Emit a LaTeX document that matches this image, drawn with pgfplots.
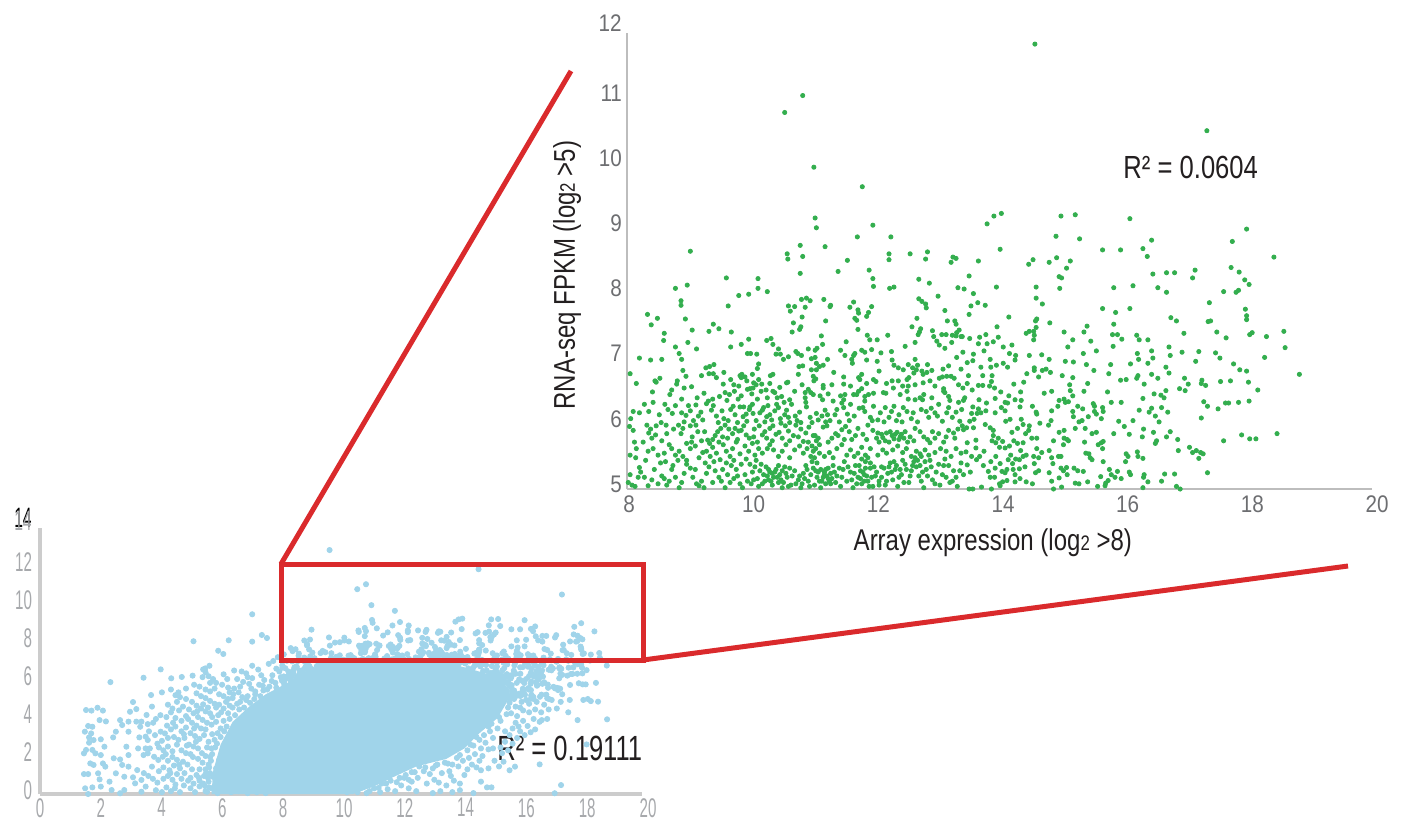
\documentclass[border=0pt]{standalone}
\usepackage{pgfplots}
\usepackage{pgfplotstable}
\usepackage{fontspec}
\pgfplotsset{compat=1.18}
\setmainfont{Liberation Sans}
\newfontfamily\fmain[FakeStretch=0.56]{Liberation Sans}
\newfontfamily\finset[FakeStretch=0.86]{Liberation Sans}
\newfontfamily\ftext[FakeStretch=0.80]{Liberation Sans}
\newfontfamily\frmain[FakeStretch=0.73]{Liberation Sans}
\definecolor{bluept}{HTML}{A0D4EA}
\definecolor{greenpt}{HTML}{33AE4E}
\definecolor{redl}{HTML}{DA2A2C}
\definecolor{axgray}{HTML}{BDBDBD}
\definecolor{axlight}{HTML}{CCCCCC}
\definecolor{tickdark}{HTML}{6D6E71}
\definecolor{ticklight}{HTML}{A7A9AC}
\definecolor{txt}{HTML}{231F20}
% points with array expression > 8 and RNA-seq > 5 (shown in both panels)
\pgfplotstableread[row sep=\\]{
x y\\
10.83 11.04\\10.54 10.78\\11.01 9.94\\11.79 9.64\\11.03 9.16\\11.05 9.01\\11.96 9.05\\11.71 8.87\\12.25 8.87\\10.79 8.74\\11.19 8.72\\9.02 8.65\\10.58 8.61\\10.59 8.53\\10.83 8.57\\11.55 8.51\\11.40 8.34\\11.90 8.36\\10.79 8.31\\12.22 8.61\\12.22 8.52\\12.56 8.61\\12.84 8.64\\12.81 8.53\\13.25 8.56\\13.30 8.54\\13.22 8.48\\13.66 8.50\\13.51 8.27\\9.60 8.24\\10.11 8.23\\11.96 8.23\\12.70 8.22\\
14.57 11.83\\17.34 10.50\\14.03 9.23\\13.91 9.19\\13.80 9.07\\15.22 9.21\\14.99 9.19\\16.10 9.15\\14.91 8.88\\15.29 8.84\\14.01 8.68\\14.54 8.52\\14.47 8.45\\14.80 8.48\\14.92 8.55\\15.14 8.50\\15.08 8.39\\14.96 8.26\\15.00 8.24\\15.66 8.67\\15.95 8.67\\16.31 8.69\\16.45 8.82\\16.38 8.57\\16.47 8.30\\16.69 8.32\\16.82 8.32\\17.15 8.36\\17.11 8.24\\17.98 8.99\\17.75 8.80\\17.73 8.40\\17.86 8.33\\17.95 8.21\\18.42 8.56\\
13.43 8.07\\13.58 8.00\\13.95 8.10\\14.59 8.10\\14.59 7.93\\14.69 7.84\\14.97 8.08\\15.84 8.09\\16.15 8.12\\16.55 8.09\\16.69 8.02\\17.61 8.03\\17.81 8.02\\17.85 8.05\\18.02 8.14\\17.38 7.86\\17.96 7.76\\17.98 7.66\\17.98 7.60\\13.65 7.86\\13.77 7.82\\13.54 7.81\\13.51 7.68\\14.15 7.64\\14.60 7.61\\14.58 7.58\\14.81 7.55\\14.59 7.48\\13.96 7.49\\15.66 7.77\\15.87 7.71\\16.10 7.77\\15.84 7.53\\16.76 7.63\\16.85 7.58\\17.36 7.57\\17.40 7.58\\15.41 7.50\\15.36 7.41\\15.04 7.41\\14.55 7.42\\14.48 7.42\\14.43 7.39\\14.56 7.36\\14.55 7.29\\15.18 7.29\\15.47 7.27\\15.82 7.37\\15.90 7.37\\15.97 7.30\\16.21 7.36\\16.25 7.29\\16.39 7.29\\16.97 7.39\\17.50 7.41\\17.65 7.32\\18.03 7.37\\18.07 7.40\\18.30 7.34\\18.58 7.42\\18.60 7.17\\18.27 7.02\\18.83 6.76\\
13.40 7.34\\13.52 7.31\\13.68 7.33\\13.78 7.37\\13.66 7.23\\13.80 7.23\\13.90 7.26\\13.98 7.33\\14.06 7.18\\14.20 7.21\\14.16 7.08\\14.26 7.05\\13.75 7.12\\13.58 7.07\\13.41 7.10\\13.57 6.97\\13.48 6.94\\13.85 6.99\\14.48 7.05\\14.68 7.06\\14.80 6.99\\15.10 7.18\\15.35 7.08\\15.56 7.12\\15.83 7.19\\16.22 7.08\\16.45 7.12\\16.24 6.99\\16.47 7.01\\16.73 7.18\\16.75 7.05\\16.94 7.10\\17.21 7.11\\17.48 7.09\\17.55 7.01\\17.16 6.96\\15.06 6.96\\15.19 6.95\\15.40 6.91\\15.79 6.91\\16.11 6.92\\16.39 6.93\\16.68 6.87\\17.77 6.92\\17.87 6.83\\17.98 6.81\\13.70 6.87\\13.86 6.87\\13.95 6.90\\14.06 6.93\\14.13 6.87\\14.25 6.98\\13.38 6.84\\14.56 6.86\\14.44 6.77\\14.56 6.82\\14.69 6.82\\14.75 6.84\\14.82 6.79\\14.63 6.72\\15.01 6.74\\15.18 6.71\\15.52 6.82\\15.76 6.77\\16.23 6.74\\16.21 6.70\\16.45 6.76\\16.55 6.70\\16.73 6.78\\16.98 6.70\\17.04 6.61\\17.26 6.67\\17.25 6.62\\17.32 6.59\\17.56 6.65\\17.72 6.66\\18.01 6.64\\18.16 6.52\\
13.50 6.74\\13.73 6.74\\13.88 6.74\\13.87 6.65\\14.23 6.61\\14.39 6.64\\15.95 6.67\\16.04 6.68\\16.33 6.61\\15.42 6.62\\15.13 6.60\\16.90 6.54\\16.99 6.51\\16.68 6.51\\16.49 6.46\\16.60 6.44\\16.65 6.40\\16.31 6.39\\15.74 6.49\\15.36 6.50\\15.14 6.51\\15.18 6.43\\14.84 6.50\\14.72 6.47\\14.34 6.49\\14.15 6.43\\14.02 6.49\\13.84 6.58\\13.92 6.55\\13.66 6.59\\13.73 6.59\\13.48 6.62\\13.41 6.55\\13.56 6.52\\13.93 6.39\\14.25 6.37\\14.35 6.36\\14.96 6.36\\15.04 6.38\\15.06 6.33\\15.11 6.34\\15.80 6.33\\15.96 6.33\\17.29 6.34\\17.35 6.27\\17.52 6.23\\17.64 6.32\\17.69 6.32\\17.85 6.33\\18.02 6.35\\15.26 6.27\\15.18 6.19\\15.34 6.23\\15.51 6.31\\15.53 6.27\\15.66 6.25\\15.53 6.19\\15.67 6.19\\15.56 6.15\\14.94 6.27\\14.84 6.20\\14.53 6.27\\14.59 6.18\\14.60 6.15\\14.33 6.26\\14.13 6.32\\14.09 6.33\\14.03 6.25\\14.09 6.20\\13.79 6.32\\13.67 6.37\\13.44 6.40\\13.42 6.36\\13.57 6.26\\13.78 6.20\\13.66 6.23\\13.70 6.17\\13.64 6.16\\13.55 6.16\\13.93 6.17\\
16.25 6.21\\16.45 6.24\\16.41 6.18\\16.61 6.25\\16.71 6.18\\16.51 6.12\\17.25 6.09\\16.15 6.05\\15.92 6.04\\16.57 6.03\\15.64 6.08\\15.43 6.11\\15.19 6.11\\15.28 6.03\\15.33 6.05\\16.01 5.96\\16.32 5.92\\16.75 5.88\\16.48 5.87\\15.84 5.85\\15.56 5.87\\15.49 5.85\\15.38 5.93\\15.22 5.93\\16.69 5.80\\16.30 5.80\\16.09 5.84\\16.87 5.76\\16.53 5.74\\16.51 5.70\\17.06 5.64\\16.88 5.59\\17.17 5.59\\17.11 5.56\\17.24 5.56\\17.28 5.54\\17.21 5.47\\17.61 5.74\\17.90 5.83\\18.03 5.77\\18.13 5.77\\18.47 5.85\\17.35 5.25\\16.82 5.23\\16.66 5.23\\16.61 5.12\\16.33 5.22\\16.32 5.18\\16.39 5.11\\16.31 5.02\\16.85 5.04\\16.91 5.00\\16.09 5.26\\16.11 5.22\\15.96 5.16\\15.90 5.27\\15.86 5.18\\15.77 5.30\\15.80 5.22\\15.75 5.13\\15.71 5.09\\15.70 5.05\\15.63 5.19\\15.58 5.04\\15.42 5.11\\15.28 5.08\\15.22 5.09\\15.35 5.27\\15.26 5.28\\15.20 5.32\\15.08 5.33\\15.09 5.22\\15.03 5.28\\14.99 5.32\\14.96 5.17\\15.00 5.03\\14.87 5.00\\14.84 5.12\\14.86 5.39\\14.84 5.48\\14.95 5.50\\14.99 5.50\\14.80 5.59\\14.68 5.56\\14.60 5.62\\14.63 5.48\\14.55 5.50\\14.56 5.39\\14.63 5.28\\14.58 5.25\\14.80 5.25\\14.43 5.11\\14.53 5.08\\15.67 5.42\\15.39 5.55\\15.44 5.54\\15.46 5.48\\15.49 5.45\\16.04 5.54\\16.07 5.50\\16.22 5.57\\16.23 5.50\\16.31 5.47\\16.03 5.42\\15.37 5.72\\15.59 5.68\\15.64 5.71\\15.67 5.73\\15.66 5.62\\15.03 5.68\\15.04 5.78\\15.09 5.76\\15.11 5.74\\14.96 5.87\\15.04 5.90\\14.87 5.74\\14.60 5.78\\14.52 5.78\\14.47 5.90\\14.48 5.97\\14.42 5.85\\14.38 5.99\\14.35 6.07\\14.29 5.93\\14.20 5.87\\14.65 6.01\\14.79 5.98\\14.83 6.05\\14.17 6.07\\14.10 6.04\\14.38 5.71\\14.29 5.70\\14.23 5.74\\14.16 5.66\\14.05 5.73\\13.98 5.78\\13.90 5.82\\13.88 5.74\\14.09 5.63\\14.00 5.64\\13.94 5.71\\14.34 5.59\\14.43 5.52\\14.38 5.50\\14.32 5.45\\14.26 5.46\\14.18 5.52\\14.14 5.45\\14.21 5.39\\14.41 5.34\\14.32 5.31\\14.22 5.30\\14.01 5.39\\13.94 5.50\\13.86 5.42\\13.93 5.32\\14.04 5.27\\14.12 5.30\\14.25 5.22\\14.09 5.25\\14.33 5.16\\14.25 5.11\\14.12 5.13\\14.05 5.11\\14.00 5.08\\14.01 5.05\\13.92 5.18\\13.85 5.18\\13.87 5.00\\13.71 5.03\\13.57 5.00\\13.51 5.00\\13.53 5.26\\13.42 5.22\\13.74 5.36\\13.82 5.27\\13.63 5.45\\13.48 5.37\\13.75 5.58\\13.68 5.50\\13.62 5.63\\13.55 5.50\\13.46 5.57\\13.48 5.71\\13.62 5.75\\13.47 5.94\\13.42 5.91\\13.58 5.94\\13.52 6.04\\13.59 6.07\\13.77 5.99\\13.85 5.94\\13.90 5.90\\
8.78 8.08\\8.97 8.13\\8.87 7.89\\8.87 7.82\\8.33 7.68\\8.49 7.62\\8.39 7.52\\8.94 7.61\\8.60 7.39\\9.05 7.44\\8.59 7.28\\8.98 7.25\\9.32 7.42\\9.39 7.53\\9.48 7.46\\9.68 7.41\\9.63 7.81\\9.80 7.97\\9.96 7.99\\10.11 8.08\\10.26 8.03\\10.60 7.81\\10.63 7.73\\10.70 7.80\\10.81 7.91\\10.89 7.93\\10.95 7.89\\10.87 7.79\\10.82 7.64\\10.68 7.55\\10.80 7.49\\10.78 7.45\\10.66 7.41\\11.17 7.91\\11.28 7.82\\11.27 7.80\\11.20 7.58\\11.13 7.35\\11.15 7.22\\11.59 7.79\\11.65 7.87\\11.72 7.75\\11.73 7.70\\11.67 7.62\\11.70 7.59\\11.94 7.80\\11.89 7.71\\11.86 7.65\\11.72 7.45\\11.87 7.36\\11.91 7.29\\12.03 7.29\\12.20 7.36\\11.97 8.11\\12.23 8.08\\12.30 8.10\\12.87 8.16\\13.01 7.96\\13.33 8.09\\12.70 7.92\\12.75 7.88\\12.81 7.84\\12.82 7.78\\13.12 7.74\\12.67 7.62\\12.59 7.49\\12.73 7.46\\12.71 7.41\\12.69 7.37\\12.64 7.25\\12.92 7.43\\12.94 7.34\\13.07 7.37\\13.14 7.37\\13.16 7.58\\13.28 7.58\\13.30 7.53\\13.35 7.44\\13.31 7.40\\13.30 7.35\\13.24 7.36\\13.23 7.25\\12.99 7.27\\13.03 7.21\\13.12 7.16\\13.38 7.34\\
8.20 7.01\\8.38 6.98\\8.56 6.99\\8.78 7.18\\8.84 7.08\\8.88 6.99\\9.12 7.15\\9.67 7.18\\9.84 7.22\\9.96 7.30\\9.94 7.08\\9.99 7.08\\10.09 7.07\\10.12 6.92\\10.10 6.85\\10.25 7.28\\10.32 7.31\\10.35 7.22\\10.44 7.15\\10.40 7.07\\10.47 7.07\\10.52 6.99\\10.60 7.03\\10.72 7.11\\10.75 7.08\\10.81 7.05\\10.92 7.15\\11.03 7.13\\11.06 7.16\\11.03 7.02\\10.97 7.00\\11.05 6.93\\11.23 6.99\\11.16 6.90\\11.10 6.88\\11.05 6.83\\10.97 6.83\\10.83 6.89\\10.77 6.88\\10.76 6.76\\11.00 6.73\\11.04 6.69\\11.01 6.66\\11.44 7.13\\11.53 7.26\\11.51 7.05\\11.65 7.05\\11.67 7.08\\11.62 6.99\\11.63 6.93\\11.78 7.13\\11.83 7.10\\11.94 7.14\\12.09 7.09\\12.03 6.96\\11.86 6.98\\12.26 7.11\\12.27 6.98\\12.30 6.90\\12.37 6.86\\12.45 6.83\\12.48 7.19\\12.64 6.99\\12.53 6.91\\12.60 6.86\\12.68 6.90\\12.66 6.83\\12.62 6.78\\12.84 6.91\\12.75 6.81\\12.77 6.76\\12.83 6.79\\12.91 6.82\\13.09 6.84\\13.18 6.89\\13.31 7.02\\
8.05 6.77\\8.15 6.62\\8.45 6.66\\8.53 6.70\\8.47 6.64\\8.90 6.82\\8.95 6.73\\8.81 6.66\\8.80 6.61\\9.04 6.57\\9.20 6.74\\9.27 6.86\\9.33 6.88\\9.40 6.91\\9.32 6.77\\9.39 6.77\\9.56 6.79\\9.44 6.71\\9.67 6.68\\9.55 6.61\\9.82 6.74\\9.85 6.76\\9.90 6.72\\9.84 6.71\\10.02 6.76\\10.04 6.63\\10.12 6.68\\10.17 6.61\\10.30 6.62\\10.31 6.74\\10.35 6.76\\10.59 6.64\\10.57 6.63\\11.49 6.72\\11.73 6.71\\11.78 6.76\\11.75 6.68\\11.49 6.61\\11.16 6.59\\11.16 6.55\\11.33 6.79\\11.97 6.68\\12.06 6.81\\12.01 6.65\\12.27 6.66\\12.37 6.66\\12.51 6.68\\12.54 6.71\\12.29 6.55\\12.53 6.58\\12.77 6.63\\13.03 6.70\\13.08 6.72\\13.15 6.73\\13.22 6.73\\13.27 6.70\\12.96 6.58\\13.10 6.54\\13.12 6.48\\
8.41 6.49\\8.42 6.33\\8.61 6.30\\8.69 6.45\\8.88 6.38\\8.78 6.28\\8.73 6.16\\8.35 6.19\\8.10 6.19\\8.20 6.17\\8.04 5.96\\8.99 6.28\\9.11 6.29\\8.88 6.17\\8.95 6.13\\9.15 6.12\\9.24 6.47\\9.31 6.35\\9.38 6.38\\9.28 6.31\\9.39 6.28\\9.36 6.21\\9.49 6.42\\9.58 6.48\\9.73 6.50\\9.65 6.45\\9.61 6.36\\9.71 6.27\\9.67 6.22\\9.82 6.26\\9.88 6.26\\9.84 6.43\\9.94 6.53\\9.98 6.54\\10.03 6.55\\10.02 6.30\\9.98 6.26\\9.97 6.22\\9.87 6.11\\10.03 6.16\\10.14 6.17\\10.27 6.28\\10.20 6.25\\10.18 6.21\\10.35 6.50\\10.38 6.48\\10.42 6.40\\10.49 6.42\\10.41 6.30\\10.44 6.25\\10.53 6.33\\10.62 6.37\\10.65 6.30\\10.57 6.21\\10.54 6.14\\10.30 6.14\\10.25 6.11\\10.87 6.48\\10.92 6.53\\10.96 6.48\\11.00 6.45\\10.87 6.40\\10.88 6.33\\10.89 6.26\\11.11 6.43\\11.15 6.37\\11.32 6.35\\11.44 6.43\\11.51 6.45\\11.49 6.37\\11.46 6.32\\11.49 6.25\\11.65 6.45\\11.73 6.50\\11.78 6.54\\11.70 6.45\\11.83 6.42\\11.89 6.45\\11.97 6.47\\12.13 6.48\\12.17 6.47\\11.83 6.35\\11.80 6.25\\11.83 6.19\\11.19 6.21\\11.35 6.14\\11.23 6.14\\11.97 6.27\\12.08 6.17\\12.16 6.25\\12.30 6.27\\12.26 6.19\\12.40 6.45\\12.51 6.50\\12.53 6.38\\12.45 6.25\\12.51 6.19\\12.64 6.37\\12.72 6.40\\12.78 6.45\\12.76 6.37\\12.91 6.40\\12.74 6.22\\12.82 6.19\\13.02 6.30\\13.10 6.50\\13.18 6.42\\13.20 6.36\\13.34 6.33\\12.61 6.17\\12.96 6.17\\13.18 6.25\\13.39 6.22\\13.15 6.17\\
8.10 5.90\\8.12 5.72\\8.15 5.62\\8.32 5.98\\8.35 5.86\\8.38 5.92\\8.47 5.97\\8.46 5.83\\8.63 5.98\\8.64 5.85\\8.75 5.92\\8.83 5.98\\8.90 5.93\\8.87 5.85\\9.02 5.97\\9.11 5.98\\9.05 5.80\\9.04 5.72\\9.25 5.88\\9.30 5.75\\9.33 5.70\\9.42 5.82\\9.46 5.88\\9.51 5.93\\9.58 5.98\\9.64 5.92\\9.70 5.85\\9.74 5.93\\9.80 5.89\\9.88 5.97\\9.92 5.83\\9.97 5.78\\10.05 5.92\\10.13 5.97\\10.18 5.83\\10.25 5.78\\10.30 5.93\\10.35 5.97\\10.45 5.87\\10.50 5.78\\10.55 5.97\\10.60 5.89\\10.68 5.82\\10.72 5.98\\10.80 5.92\\10.84 5.73\\10.88 5.86\\10.93 5.95\\11.00 5.82\\11.05 5.74\\11.10 5.68\\11.16 5.95\\11.22 5.97\\11.30 5.78\\11.36 5.85\\11.40 5.82\\11.46 5.91\\11.52 5.96\\11.58 5.88\\11.62 5.76\\11.72 5.93\\11.80 5.84\\11.88 5.98\\11.96 5.90\\12.02 5.78\\12.06 5.72\\12.12 5.79\\12.18 5.86\\12.22 5.72\\12.27 5.82\\12.30 5.77\\12.35 5.87\\12.38 5.76\\12.42 5.84\\12.48 5.88\\12.52 5.72\\12.56 5.80\\12.64 5.93\\12.72 5.88\\12.78 5.80\\12.88 5.71\\12.96 5.78\\13.02 5.85\\13.10 5.72\\13.18 5.90\\13.26 5.86\\13.33 5.92\\13.40 5.97\\13.28 5.78\\
8.05 5.52\\8.14 5.48\\8.20 5.33\\8.30 5.44\\8.34 5.58\\8.42 5.62\\8.50 5.52\\8.54 5.40\\8.60 5.55\\8.68 5.68\\8.72 5.62\\8.78 5.52\\8.84 5.58\\8.90 5.50\\8.96 5.44\\9.02 5.62\\9.10 5.66\\9.16 5.48\\9.22 5.56\\9.28 5.58\\9.34 5.50\\9.38 5.64\\9.44 5.55\\9.50 5.45\\9.55 5.68\\9.60 5.58\\9.66 5.50\\9.70 5.62\\9.76 5.72\\9.82 5.54\\9.90 5.66\\9.96 5.58\\10.02 5.70\\10.06 5.52\\10.12 5.62\\10.18 5.55\\10.26 5.62\\10.30 5.68\\10.36 5.60\\10.44 5.50\\10.50 5.58\\10.56 5.68\\10.62 5.48\\10.70 5.60\\10.78 5.66\\10.84 5.55\\10.90 5.62\\10.96 5.50\\11.00 5.58\\11.04 5.62\\11.10 5.55\\11.18 5.50\\11.26 5.56\\11.32 5.48\\11.38 5.62\\11.46 5.68\\11.54 5.52\\11.60 5.60\\11.66 5.50\\11.72 5.55\\11.78 5.64\\11.84 5.52\\11.92 5.62\\12.04 5.52\\12.12 5.60\\12.18 5.55\\12.28 5.60\\12.36 5.66\\12.44 5.56\\12.50 5.62\\12.58 5.50\\12.66 5.58\\12.72 5.54\\12.80 5.60\\12.86 5.52\\12.96 5.56\\13.05 5.62\\13.14 5.58\\13.22 5.50\\13.30 5.62\\13.38 5.55\\
8.02 5.10\\8.05 5.22\\8.08 5.06\\8.13 5.04\\8.18 5.18\\8.22 5.26\\8.28 5.18\\8.34 5.05\\8.40 5.14\\8.44 5.30\\8.50 5.08\\8.56 5.20\\8.60 5.16\\8.64 5.06\\8.68 5.12\\8.72 5.30\\8.78 5.18\\8.84 5.02\\8.88 5.10\\8.92 5.24\\8.96 5.38\\9.02 5.32\\9.10 5.30\\9.12 5.08\\9.16 5.05\\9.24 5.02\\9.28 5.24\\9.32 5.34\\9.38 5.10\\9.42 5.28\\9.48 5.18\\9.54 5.30\\9.58 5.02\\9.62 5.22\\9.68 5.36\\9.72 5.16\\9.76 5.30\\9.82 5.08\\9.86 5.02\\9.90 5.22\\9.94 5.12\\9.98 5.38\\10.02 5.26\\10.06 5.34\\10.10 5.16\\10.14 5.28\\10.18 5.08\\10.20 5.22\\10.24 5.34\\10.28 5.14\\10.30 5.26\\10.34 5.06\\10.36 5.18\\10.40 5.30\\10.44 5.10\\10.46 5.22\\10.50 5.02\\10.54 5.34\\10.58 5.18\\10.64 5.06\\10.70 5.28\\10.76 5.14\\10.80 5.02\\10.84 5.24\\10.88 5.36\\10.92 5.12\\10.96 5.22\\11.00 5.32\\11.02 5.06\\11.06 5.18\\11.08 5.26\\11.12 5.02\\11.14 5.12\\11.18 5.22\\11.20 5.30\\11.24 5.16\\11.28 5.08\\11.32 5.36\\11.38 5.20\\11.44 5.04\\11.48 5.30\\11.54 5.12\\11.60 5.26\\11.64 5.02\\11.68 5.36\\11.72 5.18\\11.76 5.28\\11.78 5.08\\11.82 5.22\\11.84 5.42\\11.88 5.12\\11.92 5.32\\11.96 5.04\\12.00 5.20\\12.06 5.12\\12.10 5.34\\12.16 5.06\\12.20 5.24\\12.24 5.40\\12.28 5.14\\12.32 5.30\\12.36 5.04\\12.42 5.22\\12.48 5.38\\12.54 5.10\\12.58 5.28\\12.62 5.42\\12.66 5.34\\12.70 5.20\\12.74 5.12\\12.78 5.02\\12.82 5.30\\12.88 5.44\\12.92 5.14\\12.98 5.26\\13.04 5.06\\13.10 5.36\\13.14 5.18\\13.20 5.10\\13.26 5.28\\13.32 5.04\\13.38 5.40\\
8.62 5.42\\8.74 5.36\\8.82 5.44\\9.06 5.18\\9.20 5.12\\9.26 5.40\\9.40 5.42\\9.52 5.12\\9.60 5.40\\9.66 5.10\\9.72 5.44\\9.78 5.20\\9.84 5.38\\9.92 5.46\\10.00 5.08\\10.04 5.14\\10.08 5.44\\10.12 5.04\\10.16 5.38\\10.22 5.12\\10.26 5.20\\10.28 5.30\\10.32 5.12\\10.34 5.24\\10.38 5.26\\10.42 5.18\\10.44 5.36\\10.48 5.14\\10.50 5.28\\10.52 5.10\\10.56 5.24\\10.60 5.04\\10.62 5.32\\10.66 5.20\\10.72 5.08\\10.78 5.20\\10.82 5.08\\10.86 5.16\\10.90 5.30\\10.94 5.04\\10.98 5.42\\11.02 5.48\\11.04 5.28\\11.06 5.40\\11.10 5.12\\11.12 5.30\\11.16 5.18\\11.18 5.26\\11.20 5.08\\11.22 5.20\\11.24 5.32\\11.26 5.12\\11.28 5.24\\11.30 5.16\\11.34 5.26\\11.36 5.10\\11.42 5.32\\11.46 5.18\\11.50 5.42\\11.56 5.34\\11.62 5.14\\11.66 5.24\\11.70 5.08\\11.74 5.36\\11.76 5.16\\11.78 5.46\\11.80 5.26\\11.82 5.12\\11.84 5.32\\11.86 5.20\\11.88 5.48\\11.90 5.04\\11.92 5.40\\11.94 5.18\\11.98 5.34\\12.02 5.26\\12.06 5.06\\12.10 5.18\\12.14 5.32\\12.18 5.12\\12.22 5.34\\12.26 5.26\\12.30 5.42\\12.34 5.36\\12.38 5.18\\12.40 5.30\\12.44 5.44\\12.46 5.10\\12.50 5.30\\12.56 5.20\\12.60 5.36\\12.64 5.48\\12.68 5.44\\12.72 5.36\\12.74 5.50\\12.76 5.26\\12.80 5.42\\12.84 5.20\\12.90 5.34\\12.96 5.08\\13.02 5.38\\13.08 5.22\\13.12 5.46\\13.18 5.36\\13.24 5.12\\13.30 5.18\\13.36 5.28\\
8.26 5.72\\8.40 5.78\\8.56 5.74\\8.96 5.70\\9.14 5.88\\9.20 5.74\\9.38 5.76\\9.48 5.72\\9.54 5.80\\9.62 5.78\\9.78 5.76\\9.84 5.90\\10.04 5.80\\10.10 5.72\\10.22 5.88\\10.34 5.74\\10.40 5.84\\10.62 5.74\\10.76 5.80\\10.92 5.72\\10.98 5.66\\11.03 5.82\\11.08 5.78\\11.24 5.72\\11.50 5.76\\11.68 5.82\\11.86 5.76\\12.04 5.86\\12.10 5.84\\12.16 5.74\\12.24 5.88\\12.32 5.84\\12.40 5.80\\12.46 5.78\\12.62 5.74\\12.84 5.76\\12.92 5.88\\13.14 5.80\\
8.06 6.08\\8.28 6.30\\8.52 6.14\\8.55 6.02\\8.66 6.22\\8.92 6.03\\9.02 6.20\\9.07 6.05\\9.19 6.18\\9.22 6.06\\9.44 6.12\\9.47 6.02\\9.53 6.20\\9.56 6.08\\9.63 6.05\\9.74 6.14\\9.78 6.02\\9.79 6.38\\9.92 6.15\\9.93 6.04\\10.01 6.46\\10.08 6.05\\10.10 6.38\\10.16 6.50\\10.22 6.03\\10.26 6.40\\10.33 6.06\\10.38 6.20\\10.47 6.08\\10.48 6.01\\10.60 6.10\\10.62 6.02\\10.71 6.12\\10.74 6.05\\10.78 6.18\\10.80 6.02\\10.95 6.10\\10.98 6.02\\11.05 6.16\\11.08 6.06\\11.14 6.12\\11.20 6.03\\11.27 6.05\\11.38 6.22\\11.42 6.03\\11.55 6.15\\11.58 6.05\\11.60 6.30\\11.66 6.12\\11.74 6.24\\11.92 6.10\\11.95 6.05\\12.04 6.06\\12.14 6.03\\12.22 6.10\\12.34 6.05\\12.38 6.14\\12.43 6.03\\12.58 6.08\\12.68 6.03\\12.86 6.10\\12.90 6.24\\13.00 6.12\\13.08 6.04\\13.24 6.10\\13.30 6.18\\13.36 6.04\\9.13 6.40\\9.72 6.60\\9.80 6.58\\9.93 6.66\\10.08 6.60\\10.24 6.52\\10.46 6.56\\10.70 6.50\\10.82 6.60\\11.24 6.46\\11.30 6.60\\11.60 6.58\\11.86 6.62\\12.18 6.62\\12.44 6.58\\12.64 6.60\\12.88 6.66\\13.34 6.60\\8.72 6.52\\8.92 6.55\\
}\shared
% additional points seen only in the full panel
\pgfplotstableread[row sep=\\]{
x y\\
9.62 12.84\\7.05 9.46\\5.10 8.04\\6.27 8.09\\7.37 8.37\\7.54 8.21\\7.05 8.02\\5.92 7.54\\6.09 7.37\\2.34 5.89\\3.44 6.12\\4.01 6.56\\4.36 6.09\\4.71 6.16\\5.07 6.23\\5.63 6.75\\5.49 6.61\\5.42 6.56\\
1.53 4.42\\1.71 4.39\\1.91 4.54\\2.09 4.39\\1.98 3.89\\2.19 3.82\\1.60 3.58\\1.74 3.54\\1.49 3.28\\1.70 3.19\\1.63 2.98\\1.78 2.84\\2.02 2.88\\1.63 2.70\\1.46 2.14\\1.53 2.32\\1.74 2.32\\1.84 2.14\\2.02 2.05\\2.14 2.49\\1.67 1.61\\1.78 1.53\\2.09 1.61\\2.17 1.44\\1.93 1.09\\1.46 1.05\\1.60 1.05\\1.98 0.77\\2.31 0.65\\1.50 0.30\\1.74 0.35\\2.02 0.39\\2.38 0.21\\1.60 0.00\\2.66 0.04\\2.80 0.21\\2.52 1.09\\2.45 1.88\\2.66 1.82\\2.43 2.98\\2.52 3.28\\2.66 3.89\\2.73 3.63\\2.94 3.81\\2.99 4.33\\3.09 4.84\\3.20 4.47\\3.20 3.81\\3.37 3.81\\3.54 4.16\\3.72 4.60\\3.69 5.21\\3.33 3.54\\3.58 3.68\\3.76 3.75\\2.94 3.28\\3.30 2.98\\3.51 3.02\\3.58 2.84\\2.87 2.49\\3.26 2.40\\3.51 2.40\\3.65 2.40\\2.94 2.05\\3.44 2.05\\3.58 2.14\\2.73 1.53\\2.94 1.44\\3.23 1.26\\2.80 0.91\\3.09 0.88\\3.37 0.74\\3.16 0.56\\3.51 0.39\\3.37 0.12\\3.72 1.44\\3.93 1.79\\4.08 1.96\\3.79 1.96\\4.01 3.28\\4.15 3.19\\
3.45 1.10\\3.60 0.95\\3.75 0.80\\3.90 0.60\\3.85 0.20\\4.05 0.10\\4.20 0.35\\4.35 0.15\\4.50 0.50\\4.65 0.10\\4.10 0.80\\4.25 0.95\\4.40 0.75\\4.55 1.05\\4.70 0.80\\3.95 1.20\\4.10 1.40\\4.30 1.25\\4.45 1.50\\4.65 1.35\\4.80 1.10\\4.25 1.75\\4.40 1.95\\4.55 1.80\\4.75 1.70\\4.90 1.55\\4.10 2.30\\4.25 2.50\\4.40 2.25\\4.55 2.60\\4.70 2.30\\4.85 2.15\\5.00 2.10\\3.90 2.65\\4.05 2.80\\4.25 2.95\\4.45 3.00\\4.60 2.85\\4.80 2.95\\4.95 2.60\\5.10 2.50\\5.25 2.40\\4.35 3.40\\4.50 3.55\\4.70 3.30\\4.85 3.50\\5.00 3.20\\5.15 3.05\\5.30 2.90\\5.45 3.10\\3.85 3.95\\4.00 4.15\\4.20 4.05\\4.35 4.30\\4.50 4.00\\4.70 3.85\\4.85 4.10\\5.05 3.75\\5.20 3.60\\5.35 3.45\\5.50 3.40\\4.25 4.70\\4.40 4.50\\4.55 4.85\\4.75 4.60\\4.95 4.45\\5.10 4.25\\5.25 4.05\\5.40 3.90\\5.55 3.75\\5.70 3.65\\5.85 3.80\\4.05 5.35\\4.35 5.50\\4.50 5.20\\4.65 5.10\\4.85 5.00\\5.05 4.85\\5.20 4.65\\5.35 4.50\\5.50 4.35\\5.65 4.25\\5.85 4.55\\4.60 5.35\\5.20 5.30\\5.35 5.15\\5.50 5.05\\5.65 4.90\\5.80 4.75\\5.95 4.70\\6.10 4.50\\5.30 5.65\\5.50 5.50\\5.65 5.40\\5.80 5.55\\5.95 5.25\\6.10 5.15\\6.25 5.00\\6.40 5.05\\5.40 6.15\\5.50 6.40\\5.60 6.20\\5.75 6.05\\5.85 5.85\\6.05 5.75\\6.25 5.60\\6.45 5.55\\6.60 5.35\\6.10 6.30\\6.45 6.50\\6.70 6.45\\6.85 6.35\\6.55 6.05\\6.75 5.90\\6.95 5.80\\7.05 6.10\\7.05 6.75\\7.25 6.55\\7.35 6.25\\7.45 6.00\\7.60 6.85\\7.75 7.00\\7.85 6.60\\8.05 6.65\\7.90 7.20\\8.10 7.35\\
5.00 0.30\\5.15 0.10\\5.30 0.40\\5.50 0.15\\5.70 0.30\\5.90 0.05\\6.10 0.20\\6.35 0.10\\6.60 0.15\\6.90 0.05\\7.20 0.10\\7.50 0.05\\5.00 0.85\\5.20 1.00\\5.30 1.30\\5.05 1.30\\5.25 1.85\\10.20 0.10\\10.50 0.25\\10.85 0.05\\11.10 0.30\\11.30 0.10\\11.55 0.25\\11.80 0.15\\12.00 0.45\\12.25 0.30\\12.50 0.15\\13.05 0.05\\13.30 0.15\\13.70 0.10\\13.95 0.20\\12.35 0.65\\12.55 0.85\\12.85 0.55\\13.10 0.75\\13.25 0.60\\13.50 0.45\\13.75 0.70\\13.95 0.55\\12.35 1.15\\12.75 1.20\\13.05 1.35\\13.35 1.10\\13.60 1.20\\14.10 1.00\\13.90 1.45\\14.40 0.05\\14.65 0.65\\14.85 0.35\\15.00 0.35\\14.50 1.40\\14.60 1.75\\14.65 1.25\\14.90 1.35\\14.25 1.90\\14.45 2.10\\14.70 2.00\\14.90 2.35\\15.10 1.75\\15.25 1.45\\15.40 1.70\\15.60 1.25\\15.78 1.44\\16.60 1.56\\17.31 0.47\\17.10 0.04\\18.16 2.61\\
14.80 2.70\\15.05 2.95\\15.30 2.45\\15.45 2.75\\15.60 3.10\\15.85 2.95\\14.95 3.30\\15.20 3.45\\15.45 3.30\\15.70 3.45\\15.95 3.30\\16.20 3.58\\16.05 3.85\\16.40 3.95\\16.60 3.80\\16.67 3.89\\17.86 3.89\\18.84 3.93\\18.30 4.89\\18.54 4.86\\17.55 4.30\\17.60 4.95\\17.17 4.50\\16.90 4.45\\16.65 4.30\\16.45 4.45\\16.25 4.30\\16.05 4.40\\15.85 4.10\\15.65 4.25\\15.80 4.60\\16.00 4.85\\16.25 4.75\\16.50 4.85\\16.75 4.70\\17.00 4.95\\17.30 4.85\\15.60 4.80\\15.45 5.00\\15.75 5.00\\16.15 4.95\\18.20 5.00\\18.05 4.95\\
5.10 0.55\\5.30 0.70\\5.45 0.95\\5.60 0.65\\5.50 1.30\\5.65 1.10\\5.40 1.65\\5.60 1.55\\5.50 2.00\\5.65 1.95\\5.70 2.40\\5.60 2.75\\5.80 2.85\\5.90 3.20\\6.00 3.45\\6.10 3.85\\6.25 4.25\\6.40 4.55\\6.65 4.85\\6.90 5.15\\7.15 5.40\\7.40 5.70\\7.70 5.95\\8.00 6.15\\8.25 6.45\\8.50 6.70\\8.80 6.95\\5.75 0.90\\5.85 1.35\\5.95 1.80\\6.05 2.30\\6.20 2.75\\6.35 3.20\\
3.62 3.30\\3.82 3.10\\3.95 2.45\\4.18 2.10\\4.33 1.10\\4.48 0.30\\4.62 1.55\\4.78 0.45\\4.92 0.70\\4.88 2.55\\5.08 1.95\\5.18 2.75\\5.28 0.85\\5.38 2.15\\5.42 0.55\\5.55 2.45\\5.62 0.35\\5.72 3.15\\4.22 3.60\\4.42 3.75\\4.62 4.40\\4.78 3.15\\4.92 3.95\\5.12 3.45\\5.22 4.35\\5.42 4.72\\5.58 4.55\\5.72 4.05\\5.92 4.15\\6.02 4.30\\6.18 4.85\\6.30 4.65\\6.42 5.25\\6.55 4.75\\6.72 5.10\\6.85 4.95\\7.02 5.55\\7.15 5.25\\7.28 5.75\\7.42 5.45\\7.62 5.65\\7.72 6.25\\7.82 5.85\\7.95 6.45\\8.15 6.05\\8.35 6.25\\8.62 6.50\\6.30 5.35\\6.65 5.65\\6.90 6.15\\5.65 5.85\\6.22 6.05\\4.85 5.55\\5.12 5.75\\
10.70 0.35\\11.00 0.60\\11.35 0.55\\11.65 0.70\\11.95 0.85\\12.15 1.00\\12.25 0.75\\12.60 1.45\\12.95 1.05\\13.20 1.55\\13.45 1.65\\13.70 1.55\\13.85 1.90\\14.05 1.75\\14.20 2.30\\14.40 2.55\\14.60 2.85\\14.75 3.10\\15.00 3.70\\15.30 3.85\\15.50 4.20\\15.25 4.45\\15.80 3.75\\15.35 2.15\\15.05 2.40\\14.65 2.40\\14.35 1.55\\14.20 1.30\\13.65 0.95\\15.55 2.30\\15.90 3.55\\16.30 3.25\\16.45 3.40\\16.10 3.10\\15.70 2.65\\16.85 3.95\\15.95 4.55\\16.40 5.00\\
5.55 0.12\\5.48 0.42\\5.58 0.85\\5.52 1.12\\5.62 1.40\\5.68 1.75\\5.72 2.10\\5.82 2.45\\5.88 2.65\\6.00 3.00\\6.12 3.30\\6.20 3.55\\6.30 3.95\\6.48 4.15\\6.62 4.45\\6.78 4.55\\6.98 4.80\\7.12 5.00\\7.32 5.15\\7.55 5.50\\7.85 5.60\\8.10 5.85\\10.55 0.10\\10.95 0.15\\11.25 0.32\\11.50 0.55\\11.85 0.62\\12.10 0.85\\12.45 1.15\\12.80 1.40\\13.15 1.50\\13.55 1.60\\13.95 2.05\\14.30 2.60\\14.50 3.00\\14.90 3.55\\15.25 4.05\\15.55 4.55\\15.70 5.05\\15.75 5.45\\
}\extra
\begin{document}
\begin{tikzpicture}[x=1pt,y=1pt]
\useasboundingbox (0,0) rectangle (703,410.5);
\node[font=\fmain\fontsize{14}{14}\selectfont,text=black] at (11.5,151.5) {14};
\node[font=\fmain\fontsize{14}{14}\selectfont,text=ticklight] at (11.5,150) {14};
\begin{axis}[
  at={(20pt,13.5pt)},anchor=origin,scale only axis,width=301pt,height=133pt,
  xmin=0,xmax=20,ymin=0,ymax=14,clip=false,
  axis x line=bottom,axis y line=left,
  axis line style={-,draw=axlight,line width=1.6pt},
  xtick={0,2,...,20},ytick={0,2,...,12},major tick length=0pt,
  /pgf/number format/assume math mode=true,
  tick label style={font=\fmain\fontsize{13.5}{13.5}\selectfont,text=ticklight},
  xticklabel={\pgfmathparse{\tick*0.3}\hspace{\pgfmathresult pt}\pgfmathprintnumber{\tick}},
  xticklabel style={inner sep=0pt,yshift=-2pt},
  yticklabel style={yshift=2pt,xshift=-0.5pt},
]
\addplot[fill=bluept,draw=none,mark=none] coordinates {(5.7,0)(5.75,1.2)(6.0,2.6)(6.4,3.8)(6.95,4.6)(7.5,5.25)(8.3,5.9)(9.0,6.6)(9.6,6.95)(11.44,7.05)(13.14,7.05)(14.27,6.6)(15.1,6.2)(15.6,5.4)(15.5,4.8)(15.2,4.0)(14.6,3.2)(14.1,2.4)(13.5,1.85)(12.5,1.45)(11.75,0.9)(11.1,0.4)(10.4,0)} --cycle;
\addplot[only marks,mark=*,mark size=1.3pt,color=bluept] table[x=x,y=y] {\shared};
\addplot[only marks,mark=*,mark size=1.3pt,color=bluept] table[x=x,y=y] {\extra};
\node[font=\frmain\fontsize{17.5}{17.5}\selectfont,text=txt] at (axis cs:17.6,2.42) {R² = 0.19111};
\end{axis}
\begin{axis}[
  at={(313.5pt,166pt)},anchor=origin,scale only axis,width=372.5pt,height=228pt,
  xmin=8,xmax=20,ymin=5,ymax=12,clip=false,
  axis x line=bottom,axis y line=left,
  axis line style={-,draw=axgray,line width=1.3pt},
  xtick={8,10,...,20},ytick={5,6,...,11},major tick length=0pt,
  /pgf/number format/assume math mode=true,
  tick label style={font=\finset\fontsize{12}{12}\selectfont,text=tickdark},
  xticklabel={\pgfmathparse{(\tick-8)*0.25}\hspace{\pgfmathresult pt}\pgfmathprintnumber{\tick}},
  xticklabel style={yshift=0pt,xshift=1pt},
  yticklabel style={yshift=2.5pt,xshift=1pt},
  xlabel={Array expression (log{\fontsize{10.5}{10.5}\selectfont 2} >8)},
  ylabel={RNA-seq FPKM (log{\fontsize{10.5}{10.5}\selectfont 2} >5)},
  every axis x label/.style={at={(axis description cs:0.491,-0.118)},anchor=center,font=\ftext\fontsize{15}{15}\selectfont,text=txt},
  every axis y label/.style={at={(axis description cs:-0.0805,0.469)},anchor=center,rotate=90,font=\ftext\fontsize{15}{15}\selectfont,text=txt},
]
\addplot[only marks,mark=*,mark size=1.05pt,color=greenpt] table[x=x,y=y] {\shared};
\node[font=\ftext\fontsize{16}{16}\selectfont,text=txt] at (axis cs:17.08,9.93) {R² = 0.0604};
\node[font=\finset\fontsize{12}{12}\selectfont,text=tickdark,anchor=east,inner sep=0pt] at (axis cs:7.92,12.15) {12};
\end{axis}
\draw[redl,line width=2.5pt] (140.5,128.5) rectangle (321.5,80.5);
\draw[redl,line width=2.5pt] (140.5,128.5) -- (285.5,375);
\draw[redl,line width=2.5pt] (321.5,80.5) -- (674,127.5);
\end{tikzpicture}
\end{document}
